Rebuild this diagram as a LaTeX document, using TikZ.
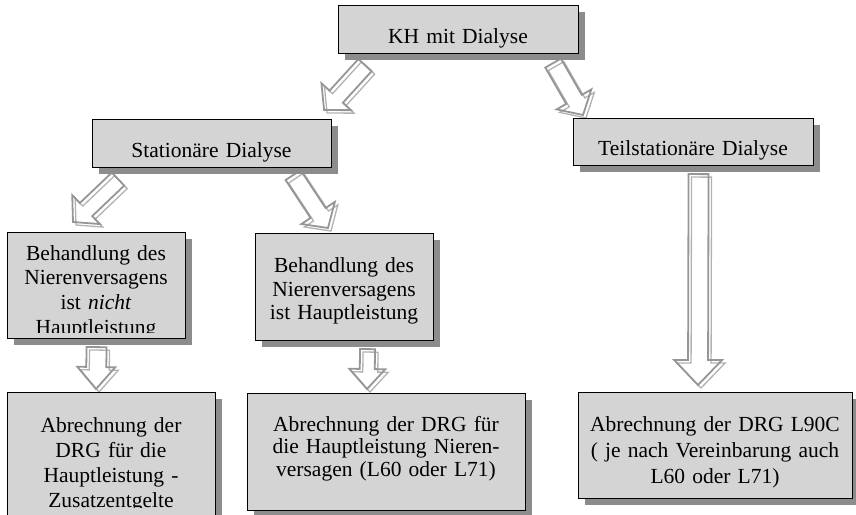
\documentclass[tikz,border=0pt]{standalone}
\usepackage{fontspec}
\setmainfont{Liberation Serif}
\usetikzlibrary{calc,shadows,backgrounds}
\definecolor{boxgray}{RGB}{212,212,212}
\definecolor{shadegray}{RGB}{140,140,140}
\definecolor{arrowgray}{RGB}{150,150,150}
\definecolor{arrowshade}{RGB}{178,178,178}
\tikzset{
  box/.style={draw=black, line width=1.1pt, fill=boxgray, anchor=north west, inner sep=0pt,
    drop shadow={shadow xshift=6pt, shadow yshift=-6pt, fill=shadegray, opacity=1}},
  txt/.style={anchor=base, inner sep=0pt, align=center, text width=290pt,
    font=\fontsize{21.5}{25}\selectfont},
  arrowline/.style={draw=arrowgray, line width=1.8pt, line join=miter},
  arrowback/.style={draw=arrowshade, line width=1.3pt, line join=miter,
    transform canvas={shift={(3pt,-3pt)}}}
}
% hollow block arrow: from, to, half shaft, half head, head length
\newcommand{\harrow}[5]{%
  \path ($(#2)!#5!(#1)$) coordinate (hb)
    ($(#1)!#3!90:(#2)$) coordinate (t1)
    ($(hb)!#3!90:(#2)$) coordinate (s1)
    ($(hb)!#4!90:(#2)$) coordinate (h1)
    ($(hb)!#4!-90:(#2)$) coordinate (h2)
    ($(hb)!#3!-90:(#2)$) coordinate (s2)
    ($(#1)!#3!-90:(#2)$) coordinate (t2);
  \draw[arrowback] (t1) -- (s1) -- (h1) -- (#2) -- (h2) -- (s2) -- (t2) -- cycle;
  \draw[arrowline] (t1) -- (s1) -- (h1) -- (#2) -- (h2) -- (s2) -- (t2) -- cycle;
}
\begin{document}
\begin{tikzpicture}[x=1pt, y=-1pt]
  \useasboundingbox (0,0) rectangle (856,514);
  \clip (0,0) rectangle (856,514);

  \node[box, minimum width=240pt, minimum height=48pt] (kh) at (338,5) {};
  \node[box, minimum width=239pt, minimum height=48pt] (stat) at (92,119) {};
  \node[box, minimum width=240pt, minimum height=47pt] (teil) at (573,118) {};
  \node[box, minimum width=178pt, minimum height=106pt] (lb) at (7,232) {};
  \node[box, minimum width=178pt, minimum height=107pt] (mb) at (255,233) {};
  \node[box, minimum width=208pt, minimum height=130pt] (bl) at (7,392) {};
  \node[box, minimum width=278pt, minimum height=117pt] (bm) at (247,393) {};
  \node[box, minimum width=274pt, minimum height=106pt] (br) at (578,392) {};

  \node[txt] (kh-t) at (458,43) {KH mit Dialyse};
  \node[txt] (stat-t) at (211.5,157) {Stationäre Dialyse};
  \node[txt] (teil-t) at (693,155) {Teilstationäre Dialyse};
  \begin{scope}
    \clip (lb.north west) rectangle (185,332.5);
    \node[txt, font=\fontsize{21.5}{24.7}\selectfont] (lb-t) at (96,260)
      {Behandlung des\\Nierenversagens\\ist \textit{nicht}\\Hauptleistung};
  \end{scope}
  \node[txt, font=\fontsize{21.5}{23.5}\selectfont] (mb-t) at (344,272.5)
    {Behandlung des\\Nierenversagens\\ist Hauptleistung};
  \begin{scope}
    \clip (bl.north west) rectangle (215,507.5);
    \node[txt] (bl-t) at (111,432)
      {Abrechnung der\\DRG für die\\Hauptleistung -\\Zusatzentgelte};
  \end{scope}
  \node[txt, font=\fontsize{21.5}{22.5}\selectfont] (bm-t) at (386,431)
    {Abrechnung der DRG für\\die Hauptleistung Nieren-\\versagen (L60 oder L71)};
  \node[txt, font=\fontsize{21.5}{26}\selectfont] (br-t) at (715,431)
    {Abrechnung der DRG L90C\\( je nach Vereinbarung auch\\L60 oder L71)};

  \coordinate (a1s) at ($(kh.south west)+(27,11)$);
  \coordinate (a1e) at ($(stat.north east)+(-8,-9)$);
  \coordinate (a2s) at ($(kh.south east)+(-26,9)$);
  \coordinate (a2e) at ($(teil.north west)+(10,-3)$);
  \coordinate (a3s) at ($(stat.south west)+(26,11)$);
  \coordinate (a3e) at ($(lb.north west)+(66,-10)$);
  \coordinate (a4s) at ($(stat.south east)+(-39,7)$);
  \coordinate (a4e) at ($(mb.north west)+(73,-5)$);
  \coordinate (a5s) at ($(lb.south)+(0,8)$);
  \coordinate (a5e) at ($(bl.north west)+(89,-3)$);
  \coordinate (a6s) at ($(mb.south)+(23,8)$);
  \coordinate (a6e) at ($(bm.north west)+(120,-4)$);
  \coordinate (a7s) at ($(teil.south)+(5,8)$);
  \coordinate (a7e) at ($(br.north west)+(120,-7)$);

  \begin{scope}[on background layer]
    \harrow{a1s}{a1e}{9pt}{20pt}{18pt}
    \harrow{a2s}{a2e}{9pt}{20pt}{18pt}
    \harrow{a3s}{a3e}{9pt}{20pt}{18pt}
    \harrow{a4s}{a4e}{9pt}{20pt}{18pt}
    \harrow{a5s}{a5e}{10pt}{19pt}{22pt}
    \harrow{a6s}{a6e}{7.5pt}{18pt}{20pt}
    \harrow{a7s}{a7e}{10pt}{24pt}{25pt}
  \end{scope}
\end{tikzpicture}
\end{document}
